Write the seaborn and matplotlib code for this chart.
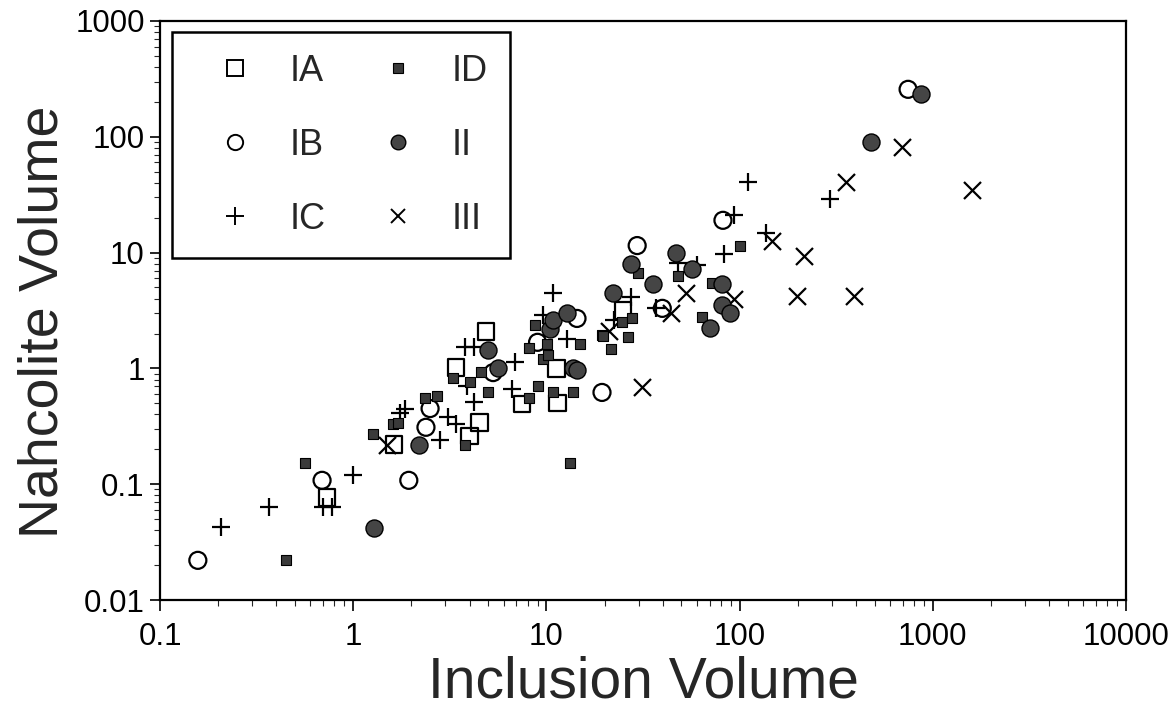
import matplotlib
matplotlib.use("Agg")
import matplotlib.pyplot as plt
import seaborn as sns
import pandas as pd
from matplotlib.lines import Line2D

# ---- data ----
ia_x = [0.73, 1.63, 3.4, 4.0, 4.5, 4.87, 7.5, 11.4, 11.3, 24.9]
ia_y = [0.077, 0.22, 1.02, 0.26, 0.34, 2.09, 0.49, 0.50, 1.0, 3.17]

ib_x = [0.157, 0.69, 1.94, 2.38, 2.5, 5.3, 9.0, 14.4, 19.4, 29.5, 39.8, 82, 745]
ib_y = [0.022, 0.108, 0.108, 0.31, 0.45, 0.92, 1.68, 2.7, 0.62, 11.5, 3.3, 19, 257]

ic_x = [0.207, 0.366, 0.70, 0.78, 1.0, 1.75, 1.85, 2.8, 3.1, 3.4, 3.8, 4.2, 3.9, 4.2,
        6.6, 6.9, 9.6, 10.8, 12.8, 22.5, 27.5, 37, 48, 60, 83, 93, 110, 137, 294]
ic_y = [0.043, 0.064, 0.064, 0.064, 0.119, 0.41, 0.45, 0.24, 0.38, 0.33, 1.52, 1.52, 0.71, 0.51,
        0.66, 1.13, 2.9, 4.44, 1.8, 2.6, 4.1, 3.3, 8.1, 7.8, 9.8, 21, 41, 14.7, 28.8]

id_x = [0.449, 0.563, 1.27, 1.6, 1.7, 2.35, 2.7, 3.3, 3.8, 4.0, 4.6, 5.0, 8.1, 8.7, 9.0,
        10.1, 9.6, 10.2, 8.1, 10.8, 13.3, 13.7, 14.9, 19.4, 19.6, 21.5, 24.6, 26.5, 27.6,
        29.8, 48, 64, 72, 100]
id_y = [0.022, 0.151, 0.27, 0.33, 0.34, 0.55, 0.58, 0.82, 0.22, 0.77, 0.93, 0.63, 1.49, 2.35, 0.71,
        1.64, 1.2, 1.3, 0.56, 0.62, 0.151, 0.63, 1.64, 1.93, 1.9, 1.46, 2.5, 1.85, 2.75,
        6.6, 6.3, 2.8, 5.5, 11.5]

ii_x = [1.28, 2.2, 5.0, 5.6, 10.4, 10.8, 12.8, 13.7, 14.4, 22, 27.5, 35.6, 47, 57, 70,
        81, 81, 89, 479, 873]
ii_y = [0.042, 0.22, 1.43, 1.0, 2.2, 2.6, 2.98, 1.0, 0.96, 4.5, 8.0, 5.4, 10.0, 7.2, 2.25,
        5.4, 3.5, 3.0, 91, 232]

iii_x = [1.5, 21, 31.3, 44, 53, 93, 148, 198, 215, 355, 391, 692, 1596]
iii_y = [0.22, 2.1, 0.69, 3.0, 4.5, 4.0, 12.5, 4.2, 9.3, 41, 4.2, 81, 34.4]

x_ticks = [0.1, 1, 10, 100, 1000, 10000]
x_ticklabels = ["0.1", "1", "10", "100", "1000", "10000"]
y_ticks = [0.01, 0.1, 1, 10, 100, 1000]
y_ticklabels = ["0.01", "0.1", "1", "10", "100", "1000"]

sns.set_style("ticks")
plt.rcParams['font.family'] = ['Liberation Sans', 'DejaVu Sans']

fig = plt.figure(figsize=(11.75, 7.17), dpi=100)
ax = fig.add_axes([160/1175, 1-600/717, 966/1175, 579/717])

lw = 1.6
sns.scatterplot(x=ia_x, y=ia_y, ax=ax, marker='s', s=140, facecolor='none',
                edgecolor='black', linewidth=lw, zorder=3)
sns.scatterplot(x=ib_x, y=ib_y, ax=ax, marker='o', s=150, facecolor='none',
                edgecolor='black', linewidth=lw, zorder=3)
sns.scatterplot(x=ic_x, y=ic_y, ax=ax, marker='+', s=165, color='black',
                linewidth=lw, zorder=3)
sns.scatterplot(x=id_x, y=id_y, ax=ax, marker='s', s=45, color='#3a3a3a',
                edgecolor='black', linewidth=0.8, zorder=4)
sns.scatterplot(x=ii_x, y=ii_y, ax=ax, marker='o', s=150, color='#454545',
                edgecolor='black', linewidth=1.0, zorder=4)
sns.scatterplot(x=iii_x, y=iii_y, ax=ax, marker='x', s=150, color='black',
                linewidth=lw, zorder=3)

ax.set_xscale('log')
ax.set_yscale('log')
ax.set_xlim(0.1, 10000)
ax.set_ylim(0.01, 1000)
ax.set_xticks(x_ticks)
ax.set_xticklabels(x_ticklabels)
ax.set_yticks(y_ticks)
ax.set_yticklabels(y_ticklabels)
ax.tick_params(axis='both', which='major', direction='out', length=8, width=1.2,
               labelsize=22.5, colors='black')
ax.tick_params(axis='x', which='major', pad=8)
ax.tick_params(axis='y', which='major', length=7, pad=4)
ax.tick_params(axis='both', which='minor', direction='out', length=4, width=0.8)
for sp in ax.spines.values():
    sp.set_visible(True)
    sp.set_linewidth(1.6)
    sp.set_color('black')

ax.set_xlabel("Inclusion Volume", fontsize=41, labelpad=2)
ax.set_ylabel("Nahcolite Volume", fontsize=40)
ax.yaxis.set_label_coords((70-160)/966, (600-322)/579)

handles = [
    Line2D([], [], ls='none', marker='s', ms=12, mfc='none', mec='black', mew=1.4),
    Line2D([], [], ls='none', marker='o', ms=11, mfc='none', mec='black', mew=1.4),
    Line2D([], [], ls='none', marker='+', ms=13, color='black', mew=1.4),
    Line2D([], [], ls='none', marker='s', ms=6.5, mfc='#3a3a3a', mec='black', mew=0.8),
    Line2D([], [], ls='none', marker='o', ms=10.5, mfc='#454545', mec='black', mew=1.0),
    Line2D([], [], ls='none', marker='x', ms=10, color='black', mew=1.4),
]
labels = ["IA", "IB", "IC", "ID", "II", "III"]
leg = ax.legend(handles, labels, ncol=2, loc='upper left',
                bbox_to_anchor=((172-160)/966, (600-32)/579), borderaxespad=0,
                fontsize=26, frameon=True,
                fancybox=False, edgecolor='black', framealpha=1,
                borderpad=0.6, labelspacing=1.08, handletextpad=0.35,
                columnspacing=0.85, handlelength=2.3)
leg.get_frame().set_linewidth(1.8)

fig.savefig("out.png", dpi=100)
